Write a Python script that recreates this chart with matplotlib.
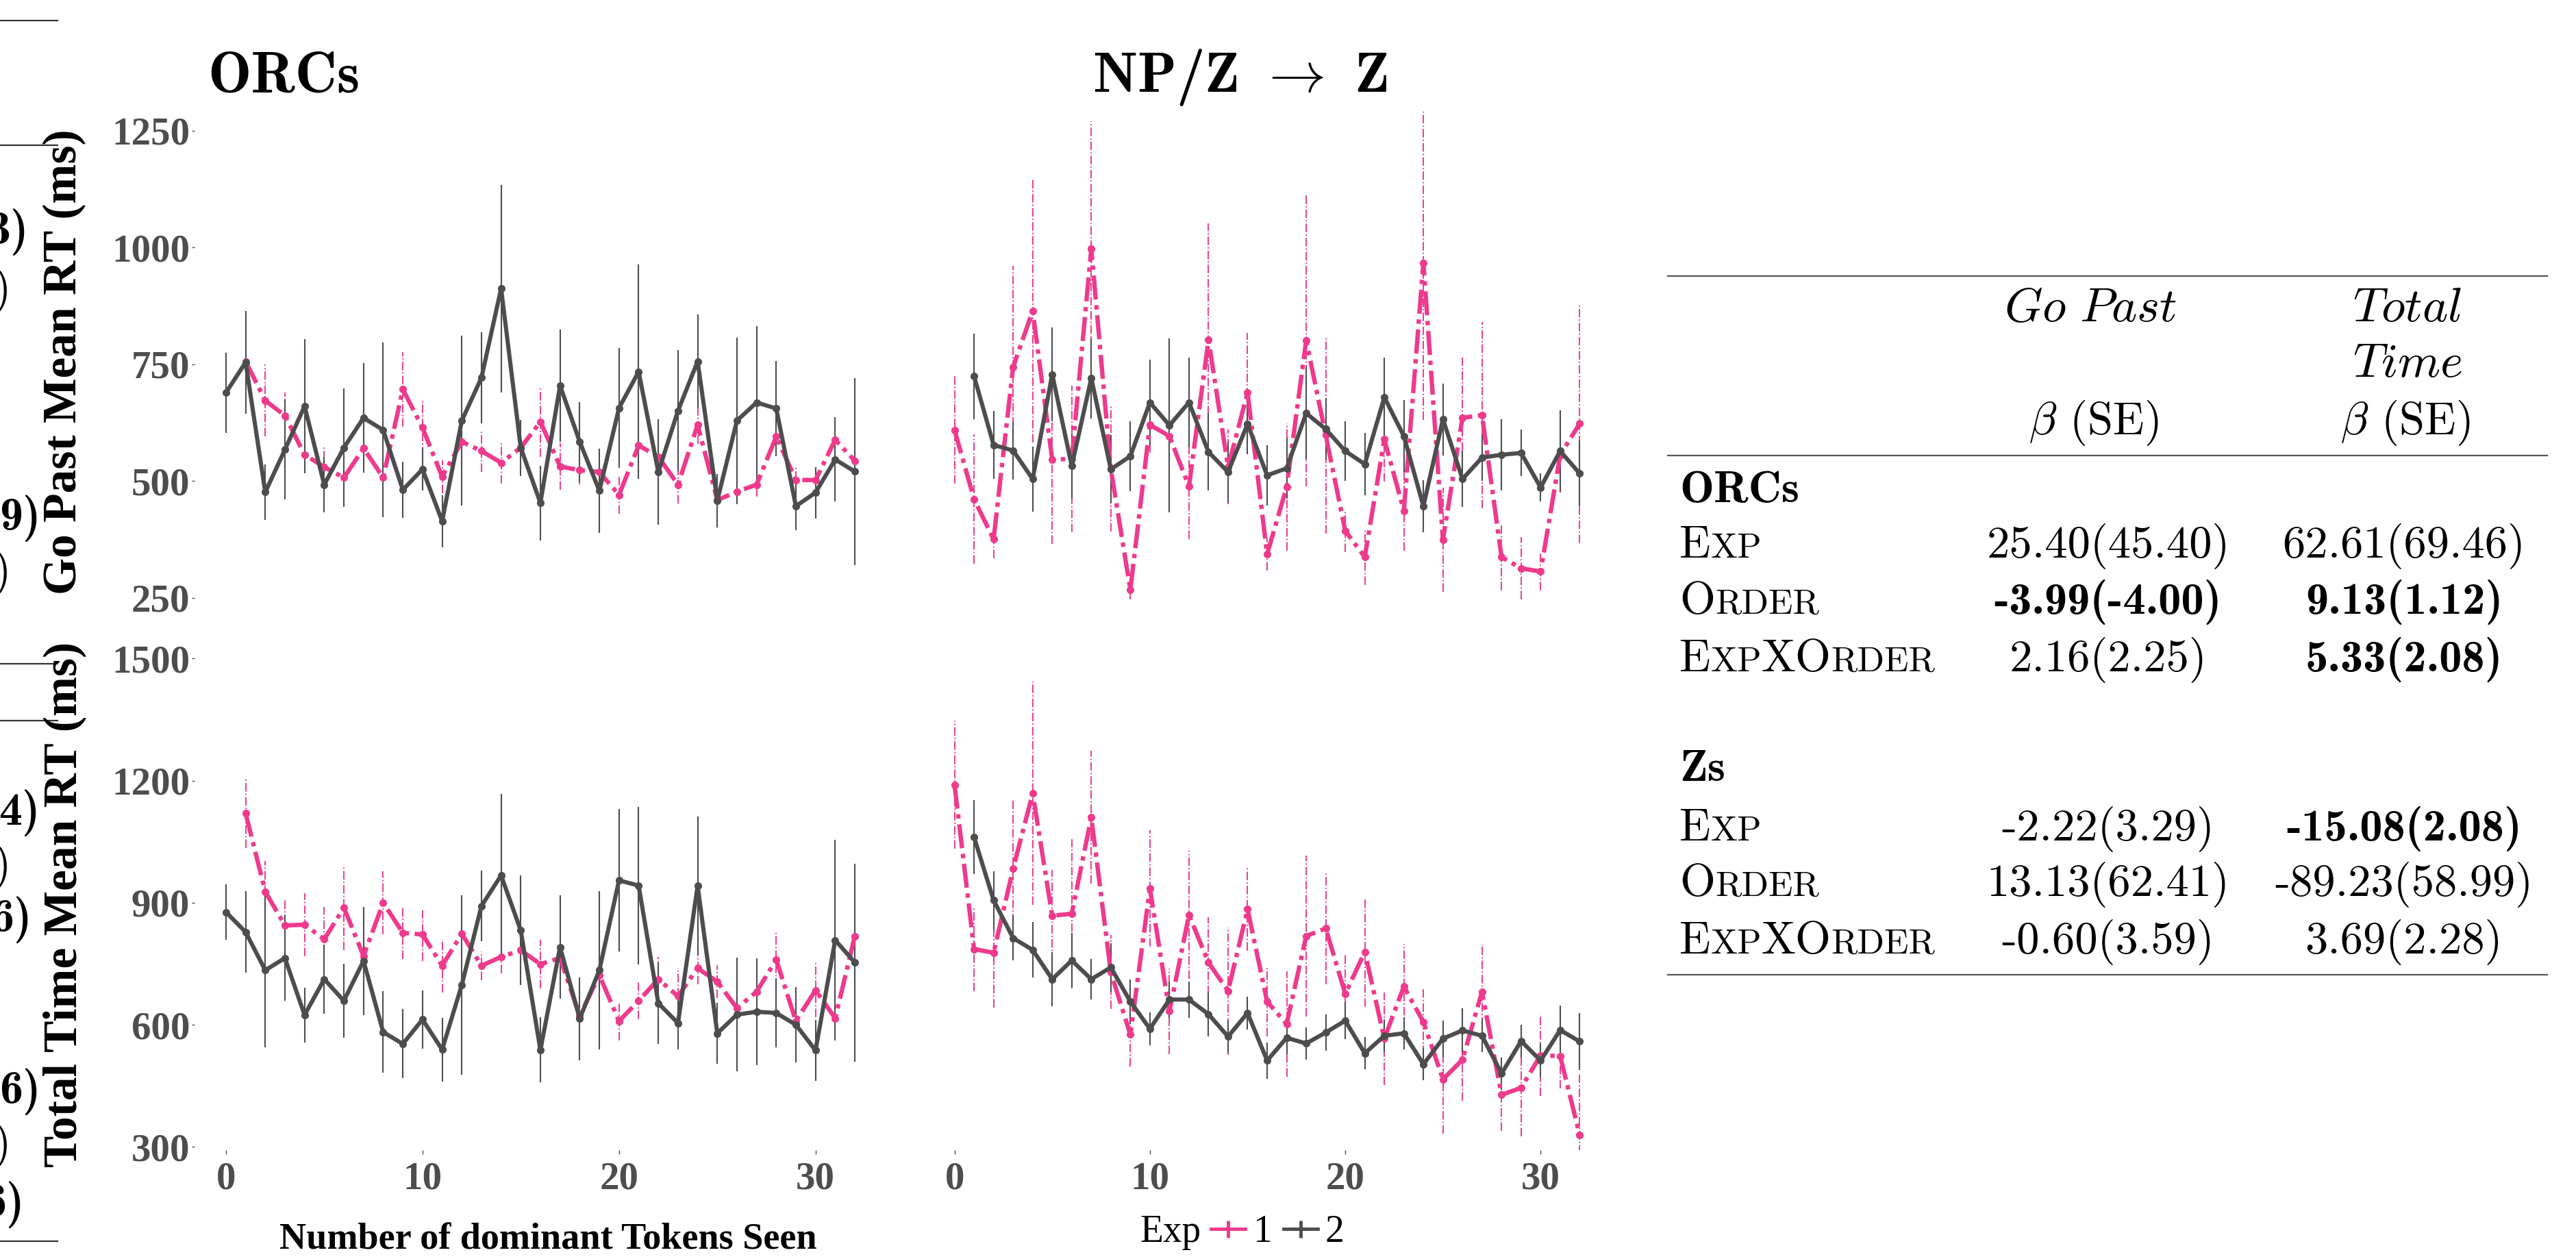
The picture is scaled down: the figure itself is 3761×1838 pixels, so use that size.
import numpy as np
import matplotlib
matplotlib.use('Agg')
import matplotlib.pyplot as plt
from matplotlib.lines import Line2D

nan = np.nan
tokens = np.arange(33)

# Go Past, ORCs
gp_orc_e1 = np.array([nan, 756, 672, 640, 556, 530, 507, 570, 507, 696, 614, 509, 584, 564, 539, 571, 627,
                      531, 523, 519, 470, 576, 552, 492, 620, 459, 477, 492, 595, 502, 502, 588, 543])
gp_orc_e1_se = np.array([nan, 15, 77, 50, 40, 45, 30, 40, 30, 80, 60, 35, 35, 45, 45, 30, 75,
                         50, 30, 25, 40, 30, 50, 40, 40, 30, 25, 25, 40, 30, 30, 40, 20])
gp_orc_e2 = np.array([689, 754, 476, 567, 660, 492, 571, 635, 609, 481, 525, 414, 629, 721, 912, 571, 453,
                      704, 584, 479, 656, 734, 519, 650, 756, 458, 629, 668, 655, 446, 475, 546, 520])
gp_orc_e2_se = np.array([86, 110, 60, 107, 143, 60, 127, 117, 187, 60, 45, 56, 182, 97, 222, 60, 80,
                         120, 85, 90, 128, 230, 113, 130, 100, 57, 178, 163, 102, 52, 55, 90, 200])

# Go Past, NP/Z
gp_z_e1 = np.array([609, 461, 375, 744, 864, 546, 547, 997, 526, 267, 620, 596, 488, 802, 530, 689, 343,
                    487, 801, 598, 393, 337, 589, 436, 967, 374, 635, 641, 337, 313, 306, 555, 623])
gp_z_e1_se = np.array([115, 139, 41, 216, 281, 181, 157, 273, 135, 20, 60, 100, 113, 250, 80, 128, 35,
                       137, 313, 211, 45, 60, 90, 86, 337, 112, 130, 199, 72, 67, 40, 80, 257])
gp_z_e2 = np.array([nan, 724, 577, 565, 504, 728, 532, 720, 525, 553, 668, 619, 668, 562, 519, 622, 512,
                    527, 645, 611, 564, 536, 679, 596, 446, 632, 504, 550, 556, 560, 486, 564, 516])
gp_z_e2_se = np.array([nan, 92, 73, 62, 70, 100, 70, 87, 73, 75, 91, 186, 96, 83, 65, 64, 65,
                       65, 100, 66, 64, 67, 85, 77, 56, 77, 60, 50, 76, 50, 30, 87, 70])

# Total Time, ORCs
tt_orc_e1 = np.array([nan, 1120, 927, 844, 846, 810, 888, 769, 900, 826, 822, 745, 824, 745, 767, 783, 749,
                      764, 622, 722, 609, 659, 712, 670, 739, 706, 641, 681, 760, 609, 685, 616, 818])
tt_orc_e1_se = np.array([nan, 85, 75, 63, 78, 79, 104, 40, 77, 65, 65, 66, 40, 35, 40, 40, 60,
                         45, 45, 40, 48, 45, 55, 70, 40, 40, 40, 50, 67, 40, 66, 40, 40])
tt_orc_e2 = np.array([877, 828, 734, 764, 624, 712, 659, 757, 582, 553, 613, 539, 698, 892, 967, 832, 538,
                      791, 615, 734, 955, 942, 653, 604, 942, 579, 625, 632, 629, 600, 537, 808, 753])
tt_orc_e2_se = np.array([68, 100, 190, 105, 67, 85, 91, 133, 100, 85, 72, 78, 220, 87, 200, 135, 80,
                         127, 102, 194, 175, 193, 100, 65, 170, 75, 140, 131, 85, 93, 75, 247, 243])

# Total Time, NP/Z
tt_z_e1 = np.array([1190, 786, 777, 984, 1169, 868, 873, 1110, 729, 576, 935, 633, 870, 753, 683, 884, 657,
                    602, 818, 837, 676, 779, 566, 694, 607, 466, 514, 681, 428, 445, 525, 523, 329])
tt_z_e1_se = np.array([158, 103, 134, 166, 275, 113, 183, 163, 91, 78, 143, 105, 157, 112, 157, 102, 85,
                       130, 198, 137, 100, 135, 114, 105, 80, 134, 100, 118, 89, 120, 100, 80, 150])
tt_z_e2 = np.array([nan, 1061, 906, 813, 784, 712, 758, 712, 741, 657, 590, 662, 662, 626, 571, 629, 512,
                    568, 554, 581, 610, 530, 573, 579, 503, 566, 586, 573, 480, 560, 512, 587, 559])
tt_z_e2_se = np.array([nan, 91, 72, 55, 68, 67, 67, 50, 60, 55, 40, 45, 45, 54, 40, 40, 45,
                       40, 40, 45, 45, 40, 40, 40, 40, 45, 55, 40, 40, 40, 42, 60, 70])

gp_ticks = [250, 500, 750, 1000, 1250]
tt_ticks = [300, 600, 900, 1200, 1500]
x_ticks = [0, 10, 20, 30]

# regression table
tab_rows = ['Exp', 'Order', 'ExpXOrder']
orc_gp = ['25.40(45.40)', '-3.99(-4.00)', '2.16(2.25)']
orc_tt = ['62.61(69.46)', '9.13(1.12)', '5.33(2.08)']
orc_gp_bold = [False, True, False]
orc_tt_bold = [False, True, True]
zs_gp = ['-2.22(3.29)', '13.13(62.41)', '-0.60(3.59)']
zs_tt = ['-15.08(2.08)', '-89.23(58.99)', '3.69(2.28)']
zs_gp_bold = [False, False, False]
zs_tt_bold = [True, False, False]

W, H = 3762, 1838
PINK = '#EE3A8C'
GREY = '#4D4D4D'
SERIF = 'Liberation Serif'

plt.rcParams['mathtext.fontset'] = 'cm'

fig = plt.figure(figsize=(W / 100, H / 100), dpi=100)


def fx(px):
    return px / W


def fy(py):
    return 1 - py / H


def panel(left, top, bottom, width, e1, e1_se, e2, e2_se, ylim, yticks, show_y, show_x):
    ax = fig.add_axes([fx(left), fy(bottom), width / W, (bottom - top) / H])
    ax.vlines(tokens, e1 - e1_se, e1 + e1_se, color=PINK, lw=1.4, linestyles='dashdot')
    ax.vlines(tokens, e2 - e2_se, e2 + e2_se, color=GREY, lw=1.5)
    ax.plot(tokens, e1, color=PINK, lw=4.6, ls=(0, (5.5, 1.3, 1.0, 1.3)), marker='o', ms=7)
    ax.plot(tokens, e2, color=GREY, lw=4.4, marker='o', ms=7)
    ax.set_xlim(-1.6, 33.6)
    ax.set_ylim(*ylim)
    for s in ax.spines.values():
        s.set_visible(False)
    ax.set_yticks(yticks)
    ax.set_xticks(x_ticks)
    ax.tick_params(axis='y', length=3, width=1, color=GREY, pad=2, left=show_y, labelleft=show_y)
    ax.tick_params(axis='x', length=4, width=1, color=GREY, pad=8, bottom=show_x, labelbottom=show_x)
    for lab in ax.get_yticklabels() + ax.get_xticklabels():
        lab.set_fontfamily(SERIF)
        lab.set_fontweight('bold')
        lab.set_fontsize(41)
        lab.set_color(GREY)
    return ax


panel(284, 163.4, 879.4, 1010, gp_orc_e1, gp_orc_e1_se, gp_orc_e2, gp_orc_e2_se, (240, 1290), gp_ticks, True, False)
panel(1348, 163.4, 879.4, 1004, gp_z_e1, gp_z_e1_se, gp_z_e2, gp_z_e2_se, (240, 1290), gp_ticks, False, False)
panel(284, 949.6, 1679, 1010, tt_orc_e1, tt_orc_e1_se, tt_orc_e2, tt_orc_e2_se, (292, 1520), tt_ticks, True, True)
panel(1348, 949.6, 1679, 1004, tt_z_e1, tt_z_e1_se, tt_z_e2, tt_z_e2_se, (292, 1520), tt_ticks, False, True)

# titles and axis labels
fig.text(fx(303), fy(113), 'ORCs', family='cmb10', fontsize=61, va='center')
fig.text(fx(1595), fy(113), r'NP/Z $\rightarrow$ Z', family='cmb10', fontsize=60, va='center')
fig.text(fx(94), fy(528), 'Go Past Mean RT (ms)', family=SERIF, fontweight='bold', fontsize=50,
         rotation=90, ha='center', va='center')
fig.text(fx(94), fy(1320), 'Total Time Mean RT (ms)', family=SERIF, fontweight='bold', fontsize=50,
         rotation=90, ha='center', va='center')
fig.text(fx(800), fy(1811), 'Number of dominant Tokens Seen', family=SERIF, fontweight='bold',
         fontsize=39, ha='center', va='center')

# legend
fig.text(fx(1664), fy(1799), 'Exp', family=SERIF, fontsize=40, va='center')
handles = [Line2D([], [], color=PINK, lw=3.5, marker='+', ms=18, mew=3.5),
           Line2D([], [], color=GREY, lw=3.5, marker='+', ms=18, mew=3.5)]
fig.legend(handles, ['1', '2'], ncol=2, loc='center left', bbox_to_anchor=(fx(1768), fy(1799)),
           frameon=False, handlelength=0.9, handletextpad=0.2, columnspacing=0.3, borderpad=0,
           borderaxespad=0, prop={'family': SERIF, 'size': 40})

# cut-off table fragments on the left edge
for yy in [30, 212, 969, 1052, 1812]:
    fig.add_artist(Line2D([0, fx(84)], [fy(yy), fy(yy)], color='#333333', lw=1.6))
frags = [('3)', 42, 339, True), (')', 16, 424, False), ('9)', 60, 757, True), (')', 16, 836, False),
         ('4)', 59, 1187, True), (')', 16, 1265, False), ('6)', 47, 1343, True), ('6)', 59, 1594, True),
         (')', 16, 1672, False), ('6)', 36, 1759, True)]
for txt, xx, yy, bold in frags:
    fig.text(fx(xx), fy(yy), txt, family='cmb10' if bold else 'cmr10', fontsize=49, ha='right', va='center')

# regression table
renderer = fig.canvas.get_renderer()
TS = 48


def smallcaps(x, y, word):
    segs = []
    for ch in word:
        up = ch.isupper()
        if segs and segs[-1][1] == up:
            segs[-1][0] += ch
        else:
            segs.append([ch, up])
    cur = x
    for s, up in segs:
        t = fig.text(fx(cur), fy(y), s.upper(), family='cmr10', fontsize=TS if up else TS * 0.78,
                     va='baseline')
        cur = t.get_window_extent(renderer).x1


for yy in [403, 665, 1423]:
    fig.add_artist(Line2D([fx(2435), fx(3719)], [fy(yy), fy(yy)], color='#555555', lw=1.6))

fig.text(fx(3052), fy(469), r'$\mathit{Go\ Past}$', fontsize=51, ha='center', va='baseline')
fig.text(fx(3515), fy(469), r'$\mathit{Total}$', fontsize=51, ha='center', va='baseline')
fig.text(fx(3515), fy(550), r'$\mathit{Time}$', fontsize=51, ha='center', va='baseline')
for cx in [3057, 3512]:
    fig.text(fx(cx), fy(634), r'$\beta$ (SE)', family='cmr10', fontsize=TS, ha='center', va='baseline')

fig.text(fx(2452), fy(733), 'ORCs', family='cmb10', fontsize=TS, va='baseline')
fig.text(fx(2452), fy(1140), 'Zs', family='cmb10', fontsize=TS, va='baseline')

blocks = [([814, 896, 980], orc_gp, orc_gp_bold, orc_tt, orc_tt_bold),
          ([1227, 1308, 1392], zs_gp, zs_gp_bold, zs_tt, zs_tt_bold)]
for ys, gp, gpb, tt, ttb in blocks:
    for i, yy in enumerate(ys):
        smallcaps(2452, yy, tab_rows[i])
        fig.text(fx(3078), fy(yy), gp[i], family='cmb10' if gpb[i] else 'cmr10', fontsize=TS,
                 ha='center', va='baseline')
        fig.text(fx(3510), fy(yy), tt[i], family='cmb10' if ttb[i] else 'cmr10', fontsize=TS,
                 ha='center', va='baseline')

fig.savefig('out.png', dpi=100)
